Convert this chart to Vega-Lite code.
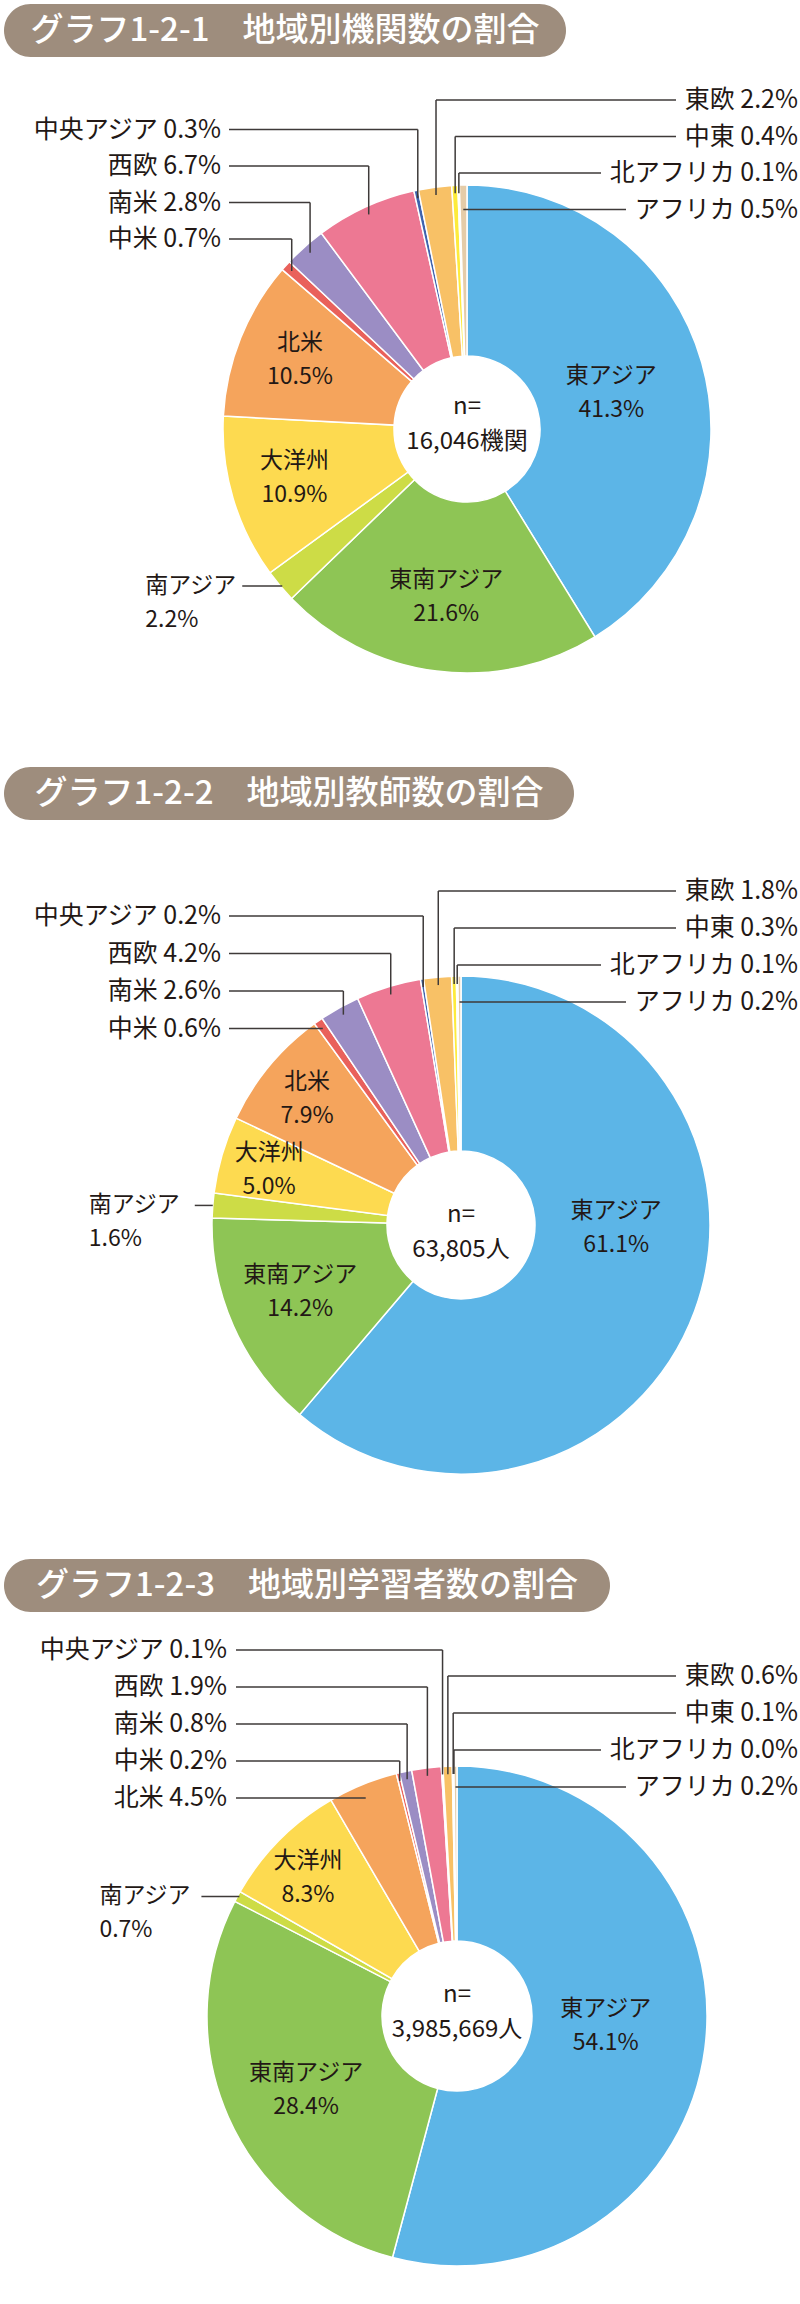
{
  "$schema": "https://vega.github.io/schema/vega-lite/v6.json",
  "background": "white",
  "padding": {"left": 4, "top": 4, "right": 0, "bottom": 0},
  "spacing": 0,
  "bounds": "flush",
  "config": {"view": {"stroke": null}, "text": {"font": "Noto Sans CJK JP", "color": "#231815", "fontSize": 23}, "rule": {"color": "#3e3a39", "strokeWidth": 1.5}},
  "datasets": {
    "c1": [
      {"region": "東アジア", "v": 41.3}, {"region": "東南アジア", "v": 21.6}, {"region": "南アジア", "v": 2.2},
      {"region": "大洋州", "v": 10.9}, {"region": "北米", "v": 10.5}, {"region": "中米", "v": 0.7},
      {"region": "南米", "v": 2.8}, {"region": "西欧", "v": 6.7}, {"region": "中央アジア", "v": 0.3},
      {"region": "東欧", "v": 2.2}, {"region": "中東", "v": 0.4}, {"region": "北アフリカ", "v": 0.1},
      {"region": "アフリカ", "v": 0.5}
    ],
    "c2": [
      {"region": "東アジア", "v": 61.1}, {"region": "東南アジア", "v": 14.2}, {"region": "南アジア", "v": 1.6},
      {"region": "大洋州", "v": 5.0}, {"region": "北米", "v": 7.9}, {"region": "中米", "v": 0.6},
      {"region": "南米", "v": 2.6}, {"region": "西欧", "v": 4.2}, {"region": "中央アジア", "v": 0.2},
      {"region": "東欧", "v": 1.8}, {"region": "中東", "v": 0.3}, {"region": "北アフリカ", "v": 0.1},
      {"region": "アフリカ", "v": 0.2}
    ],
    "c3": [
      {"region": "東アジア", "v": 54.1}, {"region": "東南アジア", "v": 28.4}, {"region": "南アジア", "v": 0.7},
      {"region": "大洋州", "v": 8.3}, {"region": "北米", "v": 4.5}, {"region": "中米", "v": 0.2},
      {"region": "南米", "v": 0.8}, {"region": "西欧", "v": 1.9}, {"region": "中央アジア", "v": 0.1},
      {"region": "東欧", "v": 0.6}, {"region": "中東", "v": 0.1}, {"region": "北アフリカ", "v": 0.0},
      {"region": "アフリカ", "v": 0.2}
    ]
  },
  "vconcat": [
    {
      "width": 562, "height": 53,
      "view": {"fill": "#9e8d7d", "stroke": null, "cornerRadius": 26.5},
      "data": {"values": [{"t": "グラフ1-2-1　地域別機関数の割合"}]},
      "mark": {"type": "text", "fontSize": 33, "fontWeight": 500, "color": "#ffffff", "align": "center", "baseline": "middle"},
      "encoding": {"text": {"field": "t", "type": "nominal"}}
    },
    {
      "width": 796, "height": 710,
      "data": {"name": "c1"},
      "transform": [
        {"window": [{"op": "row_number", "as": "k"}]},
        {"stack": "v", "groupby": [], "sort": [{"field": "k", "order": "ascending"}], "as": ["c0", "c1"]},
        {"joinaggregate": [{"op": "sum", "field": "v", "as": "tot"}]},
        {"calculate": "datum.c0/datum.tot", "as": "s0"},
        {"calculate": "datum.c1/datum.tot", "as": "s1"},
        {"calculate": "(datum.s0+datum.s1)/2", "as": "sm"},
        {"calculate": "2*PI*datum.sm", "as": "a"},
        {"calculate": "463+236*sin(datum.a)", "as": "ex"},
        {"calculate": "372-236*cos(datum.a)", "as": "ey"},
        {"calculate": "463+244*sin(datum.a)", "as": "rx"},
        {"calculate": "372-244*cos(datum.a)", "as": "ry"},
        {"calculate": "datum.region+' '+format(datum.v,'.1f')+'%'", "as": "lab"},
        {"calculate": "datum.region+'\\n'+format(datum.v,'.1f')+'%'", "as": "lab2"},
        {"calculate": "indexof(['中央アジア','西欧','南米','中米'],datum.region)", "as": "li"},
        {"calculate": "indexof(['東欧','中東','北アフリカ','アフリカ'],datum.region)", "as": "ri"}
      ],
      "layer": [
        {
          "mark": {"type": "arc", "outerRadius": 244, "innerRadius": 73, "stroke": "#ffffff", "strokeWidth": 1.5, "x": 463, "y": 372},
          "encoding": {
            "theta": {"field": "s0", "type": "quantitative", "scale": {"domain": [0, 1]}},
            "theta2": {"field": "s1"},
            "color": {"field": "region", "type": "nominal", "legend": null,
              "scale": {"domain": ["東アジア","東南アジア","南アジア","大洋州","北米","中米","南米","西欧","中央アジア","東欧","中東","北アフリカ","アフリカ"],
                        "range": ["#5cb5e7","#8ec555","#cddc46","#fdda50","#f5a45c","#e9615b","#9b8dc4","#ed7893","#3f63ad","#f8c166","#fdeb3c","#a58f6f","#e5cca8"]}}
          }
        },
        {
          "transform": [{"filter": "datum.region==='東アジア'"}],
          "mark": {"type": "text", "radius": 150, "x": 463, "y": 372, "dy": -12, "lineBreak": "\n", "lineHeight": 34, "align": "center", "baseline": "middle"},
          "encoding": {"theta": {"field": "sm", "type": "quantitative", "scale": {"domain": [0, 1]}}, "text": {"field": "lab2", "type": "nominal"}}
        },
        {
          "transform": [{"filter": "datum.region==='東南アジア'"}],
          "mark": {"type": "text", "radius": 166, "x": 463, "y": 372, "dy": -14, "lineBreak": "\n", "lineHeight": 34, "align": "center", "baseline": "middle"},
          "encoding": {"theta": {"field": "sm", "type": "quantitative", "scale": {"domain": [0, 1]}}, "text": {"field": "lab2", "type": "nominal"}}
        },
        {
          "transform": [{"filter": "datum.region==='大洋州' || datum.region==='北米'"}],
          "mark": {"type": "text", "radius": 180, "x": 463, "y": 372, "dy": -19, "lineBreak": "\n", "lineHeight": 34, "align": "center", "baseline": "middle"},
          "encoding": {"theta": {"field": "sm", "type": "quantitative", "scale": {"domain": [0, 1]}}, "text": {"field": "lab2", "type": "nominal"}}
        },
        {
          "transform": [{"filter": "datum.k===1"}],
          "mark": {"type": "text", "x": 463, "y": 372, "dy": -22, "fontSize": 24, "lineBreak": "\n", "lineHeight": 35, "align": "center", "baseline": "middle"},
          "encoding": {"text": {"value": "n=\n16,046機関"}}
        },
        {
          "transform": [
            {"filter": "datum.li>=0"},
            {"calculate": "72.5+36.5*datum.li", "as": "ly"},
            {"calculate": "max(datum.ly,datum.ey)", "as": "ey2"},
            {"calculate": "225", "as": "lx"}
          ],
          "layer": [
            {
              "mark": {"type": "text", "align": "right", "baseline": "middle", "x": 217, "fontSize": 25},
              "encoding": {
                "y": {"field": "ly", "type": "quantitative", "scale": {"domain": [0, 710], "nice": false, "zero": false, "reverse": true}, "axis": null},
                "text": {"field": "lab", "type": "nominal"}
              }
            },
            {
              "mark": {"type": "rule"},
              "encoding": {
                "x": {"field": "lx", "type": "quantitative", "scale": {"domain": [0, 796], "nice": false, "zero": false}, "axis": null},
                "x2": {"field": "ex"},
                "y": {"field": "ly", "type": "quantitative", "scale": {"domain": [0, 710], "nice": false, "zero": false, "reverse": true}, "axis": null}
              }
            },
            {
              "mark": {"type": "rule"},
              "encoding": {
                "x": {"field": "ex", "type": "quantitative", "scale": {"domain": [0, 796], "nice": false, "zero": false}, "axis": null},
                "y": {"field": "ly", "type": "quantitative", "scale": {"domain": [0, 710], "nice": false, "zero": false, "reverse": true}, "axis": null},
                "y2": {"field": "ey2"}
              }
            }
          ]
        },
        {
          "transform": [
            {"filter": "datum.ri>=0"},
            {"calculate": "43+36.5*datum.ri", "as": "ly"},
            {"calculate": "max(datum.ly,datum.ey)", "as": "ey2"},
            {"calculate": "794-length(datum.region)*25-72", "as": "rl"}
          ],
          "layer": [
            {
              "mark": {"type": "text", "align": "right", "baseline": "middle", "x": 794, "fontSize": 25},
              "encoding": {
                "y": {"field": "ly", "type": "quantitative", "scale": {"domain": [0, 710], "nice": false, "zero": false, "reverse": true}, "axis": null},
                "text": {"field": "lab", "type": "nominal"}
              }
            },
            {
              "mark": {"type": "rule"},
              "encoding": {
                "x": {"field": "ex", "type": "quantitative", "scale": {"domain": [0, 796], "nice": false, "zero": false}, "axis": null},
                "x2": {"field": "rl"},
                "y": {"field": "ly", "type": "quantitative", "scale": {"domain": [0, 710], "nice": false, "zero": false, "reverse": true}, "axis": null}
              }
            },
            {
              "mark": {"type": "rule"},
              "encoding": {
                "x": {"field": "ex", "type": "quantitative", "scale": {"domain": [0, 796], "nice": false, "zero": false}, "axis": null},
                "y": {"field": "ly", "type": "quantitative", "scale": {"domain": [0, 710], "nice": false, "zero": false, "reverse": true}, "axis": null},
                "y2": {"field": "ey2"}
              }
            }
          ]
        },
        {
          "transform": [
            {"filter": "datum.region==='南アジア'"},
            {"calculate": "datum.rx-135", "as": "sx"},
            {"calculate": "datum.rx-38", "as": "d0"},
            {"calculate": "datum.rx+2", "as": "d1"}
          ],
          "layer": [
            {
              "mark": {"type": "text", "align": "left", "baseline": "middle", "lineBreak": "\n", "lineHeight": 34},
              "encoding": {
                "x": {"field": "sx", "type": "quantitative", "scale": {"domain": [0, 796], "nice": false, "zero": false}, "axis": null},
                "y": {"field": "ry", "type": "quantitative", "scale": {"domain": [0, 710], "nice": false, "zero": false, "reverse": true}, "axis": null},
                "text": {"field": "lab2", "type": "nominal"}
              }
            },
            {
              "mark": {"type": "rule"},
              "encoding": {
                "x": {"field": "d0", "type": "quantitative", "scale": {"domain": [0, 796], "nice": false, "zero": false}, "axis": null},
                "x2": {"field": "d1"},
                "y": {"field": "ry", "type": "quantitative", "scale": {"domain": [0, 710], "nice": false, "zero": false, "reverse": true}, "axis": null}
              }
            }
          ]
        }
      ]
    },
    {
      "width": 570, "height": 53,
      "view": {"fill": "#9e8d7d", "stroke": null, "cornerRadius": 26.5},
      "data": {"values": [{"t": "グラフ1-2-2　地域別教師数の割合"}]},
      "mark": {"type": "text", "fontSize": 33, "fontWeight": 500, "color": "#ffffff", "align": "center", "baseline": "middle"},
      "encoding": {"text": {"field": "t", "type": "nominal"}}
    },
    {
      "width": 796, "height": 739,
      "data": {"name": "c2"},
      "transform": [
        {"window": [{"op": "row_number", "as": "k"}]},
        {"stack": "v", "groupby": [], "sort": [{"field": "k", "order": "ascending"}], "as": ["c0", "c1"]},
        {"joinaggregate": [{"op": "sum", "field": "v", "as": "tot"}]},
        {"calculate": "datum.c0/datum.tot", "as": "s0"},
        {"calculate": "datum.c1/datum.tot", "as": "s1"},
        {"calculate": "(datum.s0+datum.s1)/2", "as": "sm"},
        {"calculate": "2*PI*datum.sm", "as": "a"},
        {"calculate": "457+241*sin(datum.a)", "as": "ex"},
        {"calculate": "405-241*cos(datum.a)", "as": "ey"},
        {"calculate": "457+249*sin(datum.a)", "as": "rx"},
        {"calculate": "405-249*cos(datum.a)", "as": "ry"},
        {"calculate": "datum.region+' '+format(datum.v,'.1f')+'%'", "as": "lab"},
        {"calculate": "datum.region+'\\n'+format(datum.v,'.1f')+'%'", "as": "lab2"},
        {"calculate": "indexof(['中央アジア','西欧','南米','中米'],datum.region)", "as": "li"},
        {"calculate": "indexof(['東欧','中東','北アフリカ','アフリカ'],datum.region)", "as": "ri"}
      ],
      "layer": [
        {
          "mark": {"type": "arc", "outerRadius": 249, "innerRadius": 74, "stroke": "#ffffff", "strokeWidth": 1.5, "x": 457, "y": 405},
          "encoding": {
            "theta": {"field": "s0", "type": "quantitative", "scale": {"domain": [0, 1]}},
            "theta2": {"field": "s1"},
            "color": {"field": "region", "type": "nominal", "legend": null,
              "scale": {"domain": ["東アジア","東南アジア","南アジア","大洋州","北米","中米","南米","西欧","中央アジア","東欧","中東","北アフリカ","アフリカ"],
                        "range": ["#5cb5e7","#8ec555","#cddc46","#fdda50","#f5a45c","#e9615b","#9b8dc4","#ed7893","#3f63ad","#f8c166","#fdeb3c","#a58f6f","#e5cca8"]}}
          }
        },
        {
          "transform": [{"filter": "datum.region==='東アジア'"}],
          "mark": {"type": "text", "radius": 160, "x": 457, "y": 405, "dx": 5, "dy": -69, "lineBreak": "\n", "lineHeight": 34, "align": "center", "baseline": "middle"},
          "encoding": {"theta": {"field": "sm", "type": "quantitative", "scale": {"domain": [0, 1]}}, "text": {"field": "lab2", "type": "nominal"}}
        },
        {
          "transform": [{"filter": "datum.region==='東南アジア'"}],
          "mark": {"type": "text", "radius": 176, "x": 457, "y": 405, "dy": -22, "lineBreak": "\n", "lineHeight": 34, "align": "center", "baseline": "middle"},
          "encoding": {"theta": {"field": "sm", "type": "quantitative", "scale": {"domain": [0, 1]}}, "text": {"field": "lab2", "type": "nominal"}}
        },
        {
          "transform": [{"filter": "datum.region==='大洋州' || datum.region==='北米'"}],
          "mark": {"type": "text", "radius": 200, "x": 457, "y": 405, "dy": -15, "lineBreak": "\n", "lineHeight": 34, "align": "center", "baseline": "middle"},
          "encoding": {"theta": {"field": "sm", "type": "quantitative", "scale": {"domain": [0, 1]}}, "text": {"field": "lab2", "type": "nominal"}}
        },
        {
          "transform": [{"filter": "datum.k===1"}],
          "mark": {"type": "text", "x": 457, "y": 405, "dy": -10, "fontSize": 24, "lineBreak": "\n", "lineHeight": 35, "align": "center", "baseline": "middle"},
          "encoding": {"text": {"value": "n=\n63,805人"}}
        },
        {
          "transform": [
            {"filter": "datum.li>=0"},
            {"calculate": "96+37.5*datum.li", "as": "ly"},
            {"calculate": "max(datum.ly,datum.ey)", "as": "ey2"},
            {"calculate": "225", "as": "lx"}
          ],
          "layer": [
            {
              "mark": {"type": "text", "align": "right", "baseline": "middle", "x": 217, "fontSize": 25},
              "encoding": {
                "y": {"field": "ly", "type": "quantitative", "scale": {"domain": [0, 739], "nice": false, "zero": false, "reverse": true}, "axis": null},
                "text": {"field": "lab", "type": "nominal"}
              }
            },
            {
              "mark": {"type": "rule"},
              "encoding": {
                "x": {"field": "lx", "type": "quantitative", "scale": {"domain": [0, 796], "nice": false, "zero": false}, "axis": null},
                "x2": {"field": "ex"},
                "y": {"field": "ly", "type": "quantitative", "scale": {"domain": [0, 739], "nice": false, "zero": false, "reverse": true}, "axis": null}
              }
            },
            {
              "mark": {"type": "rule"},
              "encoding": {
                "x": {"field": "ex", "type": "quantitative", "scale": {"domain": [0, 796], "nice": false, "zero": false}, "axis": null},
                "y": {"field": "ly", "type": "quantitative", "scale": {"domain": [0, 739], "nice": false, "zero": false, "reverse": true}, "axis": null},
                "y2": {"field": "ey2"}
              }
            }
          ]
        },
        {
          "transform": [
            {"filter": "datum.ri>=0"},
            {"calculate": "71+37*datum.ri", "as": "ly"},
            {"calculate": "max(datum.ly,datum.ey)", "as": "ey2"},
            {"calculate": "794-length(datum.region)*25-72", "as": "rl"}
          ],
          "layer": [
            {
              "mark": {"type": "text", "align": "right", "baseline": "middle", "x": 794, "fontSize": 25},
              "encoding": {
                "y": {"field": "ly", "type": "quantitative", "scale": {"domain": [0, 739], "nice": false, "zero": false, "reverse": true}, "axis": null},
                "text": {"field": "lab", "type": "nominal"}
              }
            },
            {
              "mark": {"type": "rule"},
              "encoding": {
                "x": {"field": "ex", "type": "quantitative", "scale": {"domain": [0, 796], "nice": false, "zero": false}, "axis": null},
                "x2": {"field": "rl"},
                "y": {"field": "ly", "type": "quantitative", "scale": {"domain": [0, 739], "nice": false, "zero": false, "reverse": true}, "axis": null}
              }
            },
            {
              "mark": {"type": "rule"},
              "encoding": {
                "x": {"field": "ex", "type": "quantitative", "scale": {"domain": [0, 796], "nice": false, "zero": false}, "axis": null},
                "y": {"field": "ly", "type": "quantitative", "scale": {"domain": [0, 739], "nice": false, "zero": false, "reverse": true}, "axis": null},
                "y2": {"field": "ey2"}
              }
            }
          ]
        },
        {
          "transform": [
            {"filter": "datum.region==='南アジア'"},
            {"calculate": "datum.rx-124", "as": "sx"},
            {"calculate": "datum.rx-18", "as": "d0"},
            {"calculate": "datum.rx", "as": "d1"}
          ],
          "layer": [
            {
              "mark": {"type": "text", "align": "left", "baseline": "middle", "lineBreak": "\n", "lineHeight": 34},
              "encoding": {
                "x": {"field": "sx", "type": "quantitative", "scale": {"domain": [0, 796], "nice": false, "zero": false}, "axis": null},
                "y": {"field": "ry", "type": "quantitative", "scale": {"domain": [0, 739], "nice": false, "zero": false, "reverse": true}, "axis": null},
                "text": {"field": "lab2", "type": "nominal"}
              }
            },
            {
              "mark": {"type": "rule"},
              "encoding": {
                "x": {"field": "d0", "type": "quantitative", "scale": {"domain": [0, 796], "nice": false, "zero": false}, "axis": null},
                "x2": {"field": "d1"},
                "y": {"field": "ry", "type": "quantitative", "scale": {"domain": [0, 739], "nice": false, "zero": false, "reverse": true}, "axis": null}
              }
            }
          ]
        }
      ]
    },
    {
      "width": 606, "height": 53,
      "view": {"fill": "#9e8d7d", "stroke": null, "cornerRadius": 26.5},
      "data": {"values": [{"t": "グラフ1-2-3　地域別学習者数の割合"}]},
      "mark": {"type": "text", "fontSize": 33, "fontWeight": 500, "color": "#ffffff", "align": "center", "baseline": "middle"},
      "encoding": {"text": {"field": "t", "type": "nominal"}}
    },
    {
      "width": 796, "height": 692,
      "data": {"name": "c3"},
      "transform": [
        {"window": [{"op": "row_number", "as": "k"}]},
        {"stack": "v", "groupby": [], "sort": [{"field": "k", "order": "ascending"}], "as": ["c0", "c1"]},
        {"joinaggregate": [{"op": "sum", "field": "v", "as": "tot"}]},
        {"calculate": "datum.c0/datum.tot", "as": "s0"},
        {"calculate": "datum.c1/datum.tot", "as": "s1"},
        {"calculate": "(datum.s0+datum.s1)/2", "as": "sm"},
        {"calculate": "2*PI*datum.sm", "as": "a"},
        {"calculate": "453+242*sin(datum.a)", "as": "ex"},
        {"calculate": "404-242*cos(datum.a)", "as": "ey"},
        {"calculate": "453+250*sin(datum.a)", "as": "rx"},
        {"calculate": "404-250*cos(datum.a)", "as": "ry"},
        {"calculate": "datum.region+' '+format(datum.v,'.1f')+'%'", "as": "lab"},
        {"calculate": "datum.region+'\\n'+format(datum.v,'.1f')+'%'", "as": "lab2"},
        {"calculate": "indexof(['中央アジア','西欧','南米','中米','北米'],datum.region)", "as": "li"},
        {"calculate": "indexof(['東欧','中東','北アフリカ','アフリカ'],datum.region)", "as": "ri"}
      ],
      "layer": [
        {
          "mark": {"type": "arc", "outerRadius": 250, "innerRadius": 75, "stroke": "#ffffff", "strokeWidth": 1.5, "x": 453, "y": 404},
          "encoding": {
            "theta": {"field": "s0", "type": "quantitative", "scale": {"domain": [0, 1]}},
            "theta2": {"field": "s1"},
            "color": {"field": "region", "type": "nominal", "legend": null,
              "scale": {"domain": ["東アジア","東南アジア","南アジア","大洋州","北米","中米","南米","西欧","中央アジア","東欧","中東","北アフリカ","アフリカ"],
                        "range": ["#5cb5e7","#8ec555","#cddc46","#fdda50","#f5a45c","#e9615b","#9b8dc4","#ed7893","#3f63ad","#f8c166","#fdeb3c","#a58f6f","#e5cca8"]}}
          }
        },
        {
          "transform": [{"filter": "datum.region==='東アジア'"}],
          "mark": {"type": "text", "radius": 150, "x": 453, "y": 404, "dy": -27, "lineBreak": "\n", "lineHeight": 34, "align": "center", "baseline": "middle"},
          "encoding": {"theta": {"field": "sm", "type": "quantitative", "scale": {"domain": [0, 1]}}, "text": {"field": "lab2", "type": "nominal"}}
        },
        {
          "transform": [{"filter": "datum.region==='東南アジア'"}],
          "mark": {"type": "text", "radius": 165, "x": 453, "y": 404, "dy": -10, "lineBreak": "\n", "lineHeight": 34, "align": "center", "baseline": "middle"},
          "encoding": {"theta": {"field": "sm", "type": "quantitative", "scale": {"domain": [0, 1]}}, "text": {"field": "lab2", "type": "nominal"}}
        },
        {
          "transform": [{"filter": "datum.region==='大洋州'"}],
          "mark": {"type": "text", "radius": 210, "x": 453, "y": 404, "dy": -7, "lineBreak": "\n", "lineHeight": 34, "align": "center", "baseline": "middle"},
          "encoding": {"theta": {"field": "sm", "type": "quantitative", "scale": {"domain": [0, 1]}}, "text": {"field": "lab2", "type": "nominal"}}
        },
        {
          "transform": [{"filter": "datum.k===1"}],
          "mark": {"type": "text", "x": 453, "y": 404, "dy": -21, "fontSize": 24, "lineBreak": "\n", "lineHeight": 35, "align": "center", "baseline": "middle"},
          "encoding": {"text": {"value": "n=\n3,985,669人"}}
        },
        {
          "transform": [
            {"filter": "datum.li>=0"},
            {"calculate": "38+37*datum.li", "as": "ly"},
            {"calculate": "max(datum.ly,datum.ey)", "as": "ey2"},
            {"calculate": "232", "as": "lx"}
          ],
          "layer": [
            {
              "mark": {"type": "text", "align": "right", "baseline": "middle", "x": 223, "fontSize": 25},
              "encoding": {
                "y": {"field": "ly", "type": "quantitative", "scale": {"domain": [0, 692], "nice": false, "zero": false, "reverse": true}, "axis": null},
                "text": {"field": "lab", "type": "nominal"}
              }
            },
            {
              "mark": {"type": "rule"},
              "encoding": {
                "x": {"field": "lx", "type": "quantitative", "scale": {"domain": [0, 796], "nice": false, "zero": false}, "axis": null},
                "x2": {"field": "ex"},
                "y": {"field": "ly", "type": "quantitative", "scale": {"domain": [0, 692], "nice": false, "zero": false, "reverse": true}, "axis": null}
              }
            },
            {
              "mark": {"type": "rule"},
              "encoding": {
                "x": {"field": "ex", "type": "quantitative", "scale": {"domain": [0, 796], "nice": false, "zero": false}, "axis": null},
                "y": {"field": "ly", "type": "quantitative", "scale": {"domain": [0, 692], "nice": false, "zero": false, "reverse": true}, "axis": null},
                "y2": {"field": "ey2"}
              }
            }
          ]
        },
        {
          "transform": [
            {"filter": "datum.ri>=0"},
            {"calculate": "64+37*datum.ri", "as": "ly"},
            {"calculate": "max(datum.ly,datum.ey)", "as": "ey2"},
            {"calculate": "794-length(datum.region)*25-72", "as": "rl"}
          ],
          "layer": [
            {
              "mark": {"type": "text", "align": "right", "baseline": "middle", "x": 794, "fontSize": 25},
              "encoding": {
                "y": {"field": "ly", "type": "quantitative", "scale": {"domain": [0, 692], "nice": false, "zero": false, "reverse": true}, "axis": null},
                "text": {"field": "lab", "type": "nominal"}
              }
            },
            {
              "mark": {"type": "rule"},
              "encoding": {
                "x": {"field": "ex", "type": "quantitative", "scale": {"domain": [0, 796], "nice": false, "zero": false}, "axis": null},
                "x2": {"field": "rl"},
                "y": {"field": "ly", "type": "quantitative", "scale": {"domain": [0, 692], "nice": false, "zero": false, "reverse": true}, "axis": null}
              }
            },
            {
              "mark": {"type": "rule"},
              "encoding": {
                "x": {"field": "ex", "type": "quantitative", "scale": {"domain": [0, 796], "nice": false, "zero": false}, "axis": null},
                "y": {"field": "ly", "type": "quantitative", "scale": {"domain": [0, 692], "nice": false, "zero": false, "reverse": true}, "axis": null},
                "y2": {"field": "ey2"}
              }
            }
          ]
        },
        {
          "transform": [
            {"filter": "datum.region==='南アジア'"},
            {"calculate": "datum.rx-138", "as": "sx"},
            {"calculate": "datum.rx-36", "as": "d0"},
            {"calculate": "datum.rx+2", "as": "d1"}
          ],
          "layer": [
            {
              "mark": {"type": "text", "align": "left", "baseline": "middle", "lineBreak": "\n", "lineHeight": 34},
              "encoding": {
                "x": {"field": "sx", "type": "quantitative", "scale": {"domain": [0, 796], "nice": false, "zero": false}, "axis": null},
                "y": {"field": "ry", "type": "quantitative", "scale": {"domain": [0, 692], "nice": false, "zero": false, "reverse": true}, "axis": null},
                "text": {"field": "lab2", "type": "nominal"}
              }
            },
            {
              "mark": {"type": "rule"},
              "encoding": {
                "x": {"field": "d0", "type": "quantitative", "scale": {"domain": [0, 796], "nice": false, "zero": false}, "axis": null},
                "x2": {"field": "d1"},
                "y": {"field": "ry", "type": "quantitative", "scale": {"domain": [0, 692], "nice": false, "zero": false, "reverse": true}, "axis": null}
              }
            }
          ]
        }
      ]
    }
  ]
}
